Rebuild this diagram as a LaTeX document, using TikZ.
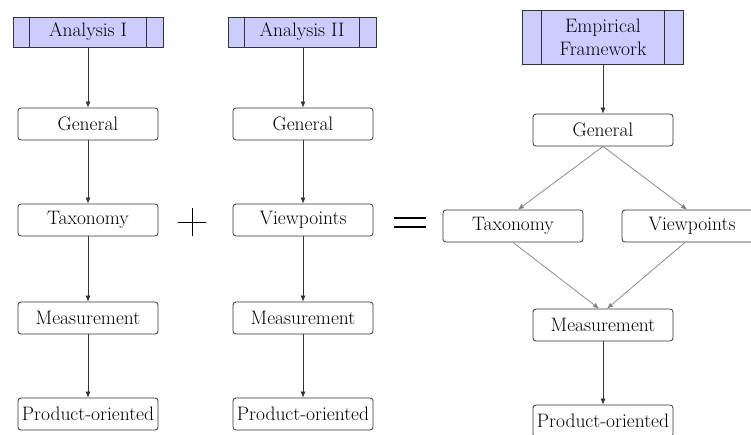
\documentclass[tikz,border=0pt]{standalone}
\usetikzlibrary{arrows.meta}
\tikzstyle{header}=[
        draw=black!80,
        fill=blue!20!white,
        line width=0.8pt,
        minimum width=150pt,
        minimum height=30pt,
        inner sep=0pt
]
\tikzstyle{stage}=[
        draw=black!80,
        rounded corners=3pt,
        line width=0.8pt,
        minimum width=140pt,
        minimum height=32pt,
        inner sep=0pt
]
\tikzstyle{link}=[
        draw=black!80,
        line width=0.7pt,
        -{Latex[length=6pt,width=5pt]}
]
\tikzstyle{slant}=[
        link,
        draw=black!50
]

\begin{document}
\begin{tikzpicture}[x=1pt,y=-1pt,font=\fontsize{19.5}{23}\selectfont]
                        \useasboundingbox (0,0) rectangle (751,434);
                        \clip (0,0) rectangle (751,434);

                        % first analysis
                        \node[header] (anA) at (88,32) {Analysis I};
                        \node[stage] (genA) at (88,124) {General};
                        \node[stage] (taxA) at (88,220) {Taxonomy};
                        \node[stage] (measA) at (88,318) {Measurement};
                        \node[stage] (prodA) at (88,414) {Product-oriented};

                        % second analysis
                        \node[header, minimum width=148pt] (anB) at (302,32) {Analysis II};
                        \node[stage] (genB) at (303,124) {General};
                        \node[stage] (vpB) at (303,220) {Viewpoints};
                        \node[stage] (measB) at (303,318) {Measurement};
                        \node[stage] (prodB) at (303,414) {Product-oriented};

                        % empirical framework
                        \node[header, minimum width=161pt, minimum height=54pt, align=center] (emp) at (603,37) {Empirical\\Framework};
                        \node[stage] (genC) at (603,130) {General};
                        \node[stage] (taxC) at (513,226) {Taxonomy};
                        \node[stage] (vpC) at (692,226) {Viewpoints};
                        \node[stage] (measC) at (603,325) {Measurement};
                        \node[stage] (prodC) at (603,421) {Product-oriented};

                        \foreach \h in {anA,anB} {
                            \draw[line width=0.8pt, black!80] ([xshift=17pt]\h.north west) -- ([xshift=17pt]\h.south west);
                            \draw[line width=0.8pt, black!80] ([xshift=-17pt]\h.north east) -- ([xshift=-17pt]\h.south east);
                        }
                        \draw[line width=0.8pt, black!80] ([xshift=19pt]emp.north west) -- ([xshift=19pt]emp.south west);
                        \draw[line width=0.8pt, black!80] ([xshift=-20pt]emp.north east) -- ([xshift=-20pt]emp.south east);

                        \draw[link] (anA) -- (genA);
                        \draw[link] (genA) -- (taxA);
                        \draw[link] (taxA) -- (measA);
                        \draw[link] (measA) -- (prodA);

                        \draw[link] (anB.south -| genB) -- (genB);
                        \draw[link] (genB) -- (vpB);
                        \draw[link] (vpB) -- (measB);
                        \draw[link] (measB) -- (prodB);

                        \draw[link] (emp) -- (genC);
                        \draw[slant] (genC.south) -- ([xshift=5pt]taxC.north);
                        \draw[slant] (genC.south) -- ([xshift=-5pt]vpC.north);
                        \draw[slant] (taxC.south) -- ([xshift=-4pt]measC.north);
                        \draw[slant] ([xshift=-7pt]vpC.south) -- ([xshift=4pt]measC.north);
                        \draw[link] (measC) -- (prodC);

                        % plus and equals
                        \draw[line width=1pt] (178,222) -- (206,222);
                        \draw[line width=1pt] (192,208) -- (192,236);
                        \draw[line width=1.6pt] (394,218) -- (426,218);
                        \draw[line width=1.6pt] (394,227) -- (426,227);

                    \end{tikzpicture}
\end{document}
